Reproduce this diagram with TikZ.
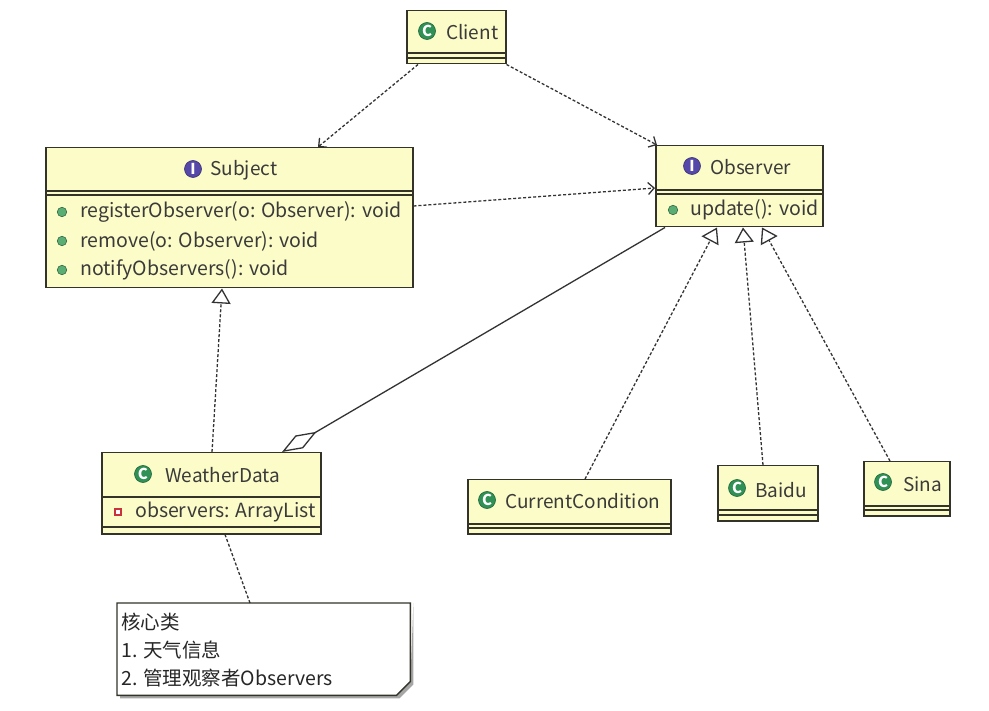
\documentclass[tikz,border=0pt]{standalone}
\usepackage{fontspec}
\setmainfont{Noto Sans CJK SC}
\usetikzlibrary{arrows.meta,calc}
\definecolor{boxfill}{HTML}{FCFCC8}
\definecolor{boxline}{HTML}{33332A}
\definecolor{cgreen}{HTML}{2F9155}
\definecolor{ipurple}{HTML}{5548A8}
\definecolor{txt}{HTML}{3A3A3A}
\definecolor{mgreen}{HTML}{5AAE74}
\definecolor{ared}{HTML}{C8323C}
\definecolor{conn}{HTML}{333333}
\begin{document}
\begin{tikzpicture}[x=1pt,y=-1pt,
  cls/.style={draw=boxline, fill=boxfill, line width=1.5pt, inner sep=0pt, anchor=north west},
  sepline/.style={draw=boxline, line width=1.3pt},
  title/.style={font=\fontsize{19}{22}\selectfont, text=txt, anchor=west, inner sep=0pt},
  member/.style={font=\fontsize{19.5}{22}\selectfont, text=txt, anchor=west, inner sep=0pt},
  cicon/.style={circle, fill=cgreen, draw=cgreen!70!black, line width=0.6pt, inner sep=0pt, minimum size=17pt, text=white, font=\bfseries\fontsize{15}{15}\selectfont},
  iicon/.style={circle, fill=ipurple, draw=ipurple!70!black, line width=0.6pt, inner sep=0pt, minimum size=17pt, text=white, font=\bfseries\fontsize{15}{15}\selectfont},
  mdot/.style={circle, fill=mgreen, draw=mgreen!60!black, line width=0.6pt, inner sep=0pt, minimum size=9.5pt},
  asq/.style={rectangle, draw=ared, fill=white, line width=1.2pt, inner sep=0pt, minimum size=6pt},
  dep/.style={draw=conn, line width=1.3pt, dash pattern=on 3pt off 2pt, -{Straight Barb[length=6pt,width=12pt]}},
  real/.style={draw=conn, line width=1.3pt, dash pattern=on 3pt off 2pt, -{Triangle[open,length=15pt,width=19pt,fill=white]}},
  agg/.style={draw=conn, line width=1.3pt, {Diamond[open,length=40pt,width=15pt,fill=white]}-},
  noteline/.style={draw=conn, line width=1.3pt, dash pattern=on 3pt off 2pt},
  notetxt/.style={font=\fontsize{19.5}{22}\selectfont, text=black!85, anchor=west, inner sep=0pt}
]
\useasboundingbox (0,0) rectangle (989,711);
\fill[white] (0,0) rectangle (989,711);

% Client
\node[cls, minimum width=99pt, minimum height=53pt] (client) at (406,10) {};
\draw[sepline] (406,53) -- (505,53);
\draw[sepline] (406,58) -- (505,58);
\node[cicon] (clienti) at (427,31) {C};
\node[title] (clientt) at (446,32) {Client};

% Subject
\node[cls, minimum width=367pt, minimum height=140pt] (subject) at (45,147) {};
\draw[sepline] (45,191) -- (412,191);
\draw[sepline] (45,195) -- (412,195);
\node[iicon] (subjecti) at (193,169) {I};
\node[title] (subjectt) at (210,170) {Subject};
\node[mdot] (sm1) at (62,212) {};
\node[member] (sm1t) at (80,212) {registerObserver(o: Observer): void};
\node[mdot] (sm2) at (62,241) {};
\node[member] (sm2t) at (80,241) {remove(o: Observer): void};
\node[mdot] (sm3) at (62,270) {};
\node[member] (sm3t) at (80,270) {notifyObservers(): void};

% Observer
\node[cls, minimum width=167pt, minimum height=81pt] (observer) at (655,145) {};
\draw[sepline] (655,190) -- (822,190);
\draw[sepline] (655,194) -- (822,194);
\node[iicon] (observeri) at (692,166) {I};
\node[title] (observert) at (710,167) {Observer};
\node[mdot] (om1) at (673,210) {};
\node[member] (om1t) at (690,210) {update(): void};

% WeatherData
\node[cls, minimum width=219pt, minimum height=81pt] (wd) at (101,452) {};
\draw[sepline] (101,497) -- (320,497);
\draw[sepline] (101,527) -- (320,527);
\node[cicon] (wdi) at (143,474) {C};
\node[title] (wdt) at (165,475) {WeatherData};
\node[asq] (wa1) at (118,512) {};
\node[member] (wa1t) at (135,512) {observers: ArrayList};

% CurrentCondition
\node[cls, minimum width=203pt, minimum height=54pt] (cc) at (467,479) {};
\draw[sepline] (467,524) -- (670,524);
\draw[sepline] (467,528) -- (670,528);
\node[cicon] (cci) at (487,500) {C};
\node[title] (cct) at (505,501) {CurrentCondition};

% Baidu
\node[cls, minimum width=100pt, minimum height=55pt] (baidu) at (717,465) {};
\draw[sepline] (717,510) -- (817,510);
\draw[sepline] (717,515) -- (817,515);
\node[cicon] (baidui) at (737,488) {C};
\node[title] (baidut) at (755,490) {Baidu};

% Sina
\node[cls, minimum width=86pt, minimum height=54pt] (sina) at (863,461) {};
\draw[sepline] (863,506) -- (949,506);
\draw[sepline] (863,510) -- (949,510);
\node[cicon] (sinai) at (883,482) {C};
\node[title] (sinat) at (903,484) {Sina};

% Note
\node[draw=none, inner sep=0pt, anchor=north west, minimum width=293pt, minimum height=92pt] (note) at (117,603) {};
\fill[gray!70] ([xshift=3pt,yshift=-3pt]note.north east) -- ([xshift=3pt,yshift=11pt]note.south east) -- ([xshift=-11pt,yshift=-3pt]note.south east) -- ([xshift=3pt,yshift=-3pt]note.south west) -- ([xshift=3pt]note.south west) -- ([xshift=-14pt]note.south east) -- ([yshift=14pt]note.south east) -- ([xshift=3pt]note.north east) -- cycle;
\draw[draw=boxline, fill=white, line width=1.4pt] (note.north west) -- (note.north east) -- ([yshift=14pt]note.south east) -- ([xshift=-14pt]note.south east) -- (note.south west) -- cycle;
\node[notetxt] (n1) at (121,622) {核心类};
\node[notetxt] (n2) at (121,650) {1. 天气信息};
\node[notetxt] (n3) at (121,678) {2. 管理观察者Observers};

% Connectors
\draw[dep] ([xshift=12pt]client.south west) -- ([xshift=273pt]subject.north west);
\draw[dep] (client.south east) -- ([xshift=2pt]observer.north west);
\draw[dep] ([yshift=-59pt]subject.north east) -- ([yshift=-43pt]observer.north west);
\draw[real] ([xshift=111pt]wd.north west) -- ([xshift=177pt]subject.south west);
\draw[agg] ([xshift=181pt]wd.north west) -- ([xshift=10pt]observer.south west);
\draw[real] ([xshift=118pt]cc.north west) -- ([xshift=62pt]observer.south west);
\draw[real] ([xshift=46pt]baidu.north west) -- ([xshift=88pt]observer.south west);
\draw[real] ([xshift=27pt]sina.north west) -- ([xshift=107pt]observer.south west);
\draw[noteline] ([xshift=133pt]note.north west) -- ([xshift=124pt]wd.south west);
\end{tikzpicture}
\end{document}
